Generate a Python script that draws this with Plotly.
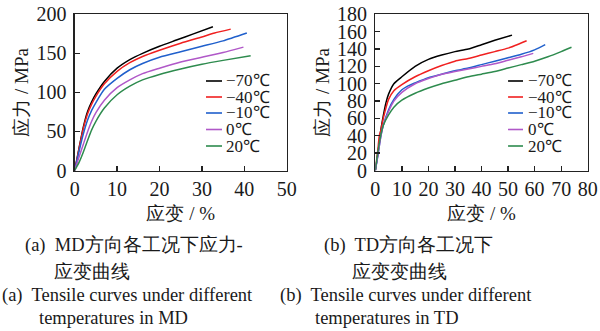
import plotly.graph_objects as go

# ---------------- data ----------------
series_names = ["−70℃", "−40℃", "−10℃", "0℃", "20℃"]
series_colors = ["#000000", "#f02020", "#2060cc", "#b058c8", "#2e8b4e"]

# MD direction (panel a): strain %, stress MPa
md_strain = [
    [0, 1, 2, 3, 4, 5, 7, 10, 13, 16, 20, 24, 28, 32.6],
    [0, 1, 2, 3, 4, 5, 7, 10, 13, 16, 20, 25, 30, 33, 36.8],
    [0, 1, 2, 3, 4, 5, 7, 10, 13, 16, 20, 25, 30, 35, 40.6],
    [0, 1, 2, 3, 4, 5, 7, 10, 13, 16, 20, 25, 30, 35, 39.8],
    [0, 1, 2, 3, 4, 5, 7, 10, 13, 16, 20, 25, 30, 35, 41.5],
]
md_stress = [
    [0, 28, 55, 75, 88, 98, 114, 131, 142, 150, 159, 167, 175, 184],
    [0, 27, 53, 72, 85, 95, 111, 127, 138, 146, 154, 163, 171, 176, 181],
    [0, 24, 46, 64, 77, 87, 104, 118, 129, 137, 145, 152, 159, 166, 176],
    [0, 17, 33, 49, 63, 74, 90, 106, 116, 124, 131, 139, 145, 151, 158],
    [0, 10, 23, 38, 52, 63, 80, 97, 108, 116, 123, 130, 136, 141, 147],
]

# TD direction (panel b)
td_strain = [
    [0, 1, 2, 3, 4, 5, 7, 10, 15, 20, 25, 30, 35, 40, 45, 51.5],
    [0, 1, 1.5, 2, 3, 5, 7, 10, 15, 20, 25, 30, 35, 40, 45, 50, 52.6, 57],
    [0, 1, 2, 3, 5, 7, 10, 12, 15, 20, 25, 30, 35, 40, 45, 50, 55, 60, 64],
    [0, 1, 2, 3, 5, 7, 10, 15, 20, 25, 30, 35, 40, 45, 50, 55, 59.5],
    [0, 1, 2, 3, 5, 7, 10, 15, 20, 25, 30, 35, 40, 45, 50, 55, 60, 65, 70, 73.9],
]
td_stress = [
    [0, 20, 45, 63, 78, 88, 100, 108, 120, 128, 133, 137, 140, 145, 150, 156],
    [0, 25, 40, 45, 60, 82, 92, 99, 108, 115, 121, 126, 129, 133, 137, 141, 144, 149.5],
    [0, 18, 38, 52, 70, 82, 93, 97, 101, 107, 111, 115, 118, 122, 126, 130, 134, 139, 145],
    [0, 18, 38, 52, 68, 80, 90, 100, 106, 111, 114, 117, 120, 123, 127, 131, 135],
    [0, 22, 40, 52, 64, 73, 81, 89, 95, 100, 104, 108, 111, 114, 118, 122, 126, 131, 137, 142],
]

md_xticks = [0, 10, 20, 30, 40, 50]
md_yticks = [0, 50, 100, 150, 200]
td_xticks = [0, 10, 20, 30, 40, 50, 60, 70, 80]
td_yticks = [0, 20, 40, 60, 80, 100, 120, 140, 160, 180]

x_title = "应变 / %"
y_title = "应力 / MPa"

captions_a = ["(a)  MD方向各工况下应力-", "应变曲线", "(a)  Tensile curves under different", "temperatures in MD"]
captions_b = ["(b)  TD方向各工况下", "应变变曲线", "(b)  Tensile curves under different", "temperatures in TD"]

# ---------------- figure ----------------
W, H = 600, 331
FONT = "Liberation Serif"
TXT = "#1a1a1a"

def px(x):
    return x / W

def py(y):
    return 1 - y / H

fig = go.Figure()

for i, name in enumerate(series_names):
    fig.add_trace(go.Scatter(x=md_strain[i], y=md_stress[i], mode="lines", name=name,
                             line=dict(color=series_colors[i], width=1.5, shape="spline", smoothing=0.6),
                             xaxis="x", yaxis="y", showlegend=False))
for i, name in enumerate(series_names):
    fig.add_trace(go.Scatter(x=td_strain[i], y=td_stress[i], mode="lines", name=name,
                             line=dict(color=series_colors[i], width=1.5, shape="spline", smoothing=0.6),
                             xaxis="x2", yaxis="y2", showlegend=False))

ydom = [py(170.5), py(14.3)]
axis_common = dict(showline=True, linecolor="#222", linewidth=1.3, mirror=True,
                   ticks="inside", ticklen=5, tickwidth=1.3, tickcolor="#222",
                   showgrid=False, zeroline=False, automargin=False,
                   tickfont=dict(family=FONT, size=20, color=TXT))

fig.update_layout(
    template="none",
    font=dict(family=FONT, color=TXT),
    width=W, height=H,
    margin=dict(l=0, r=0, t=0, b=0, autoexpand=False),
    paper_bgcolor="white", plot_bgcolor="white",
    xaxis=dict(domain=[px(74.7), px(286.7)], range=[0, 50], tickvals=md_xticks, anchor="y",
               title=dict(text=x_title, font=dict(family=FONT, size=19, color=TXT), standoff=8),
               **axis_common),
    yaxis=dict(domain=ydom, range=[0, 200], tickvals=md_yticks, anchor="x", ticklabelstandoff=3,
               title=dict(text=y_title, font=dict(family=FONT, size=19, color=TXT), standoff=2),
               **axis_common),
    xaxis2=dict(domain=[px(375.3), px(587.7)], range=[0, 80], tickvals=td_xticks, anchor="y2",
                title=dict(text=x_title, font=dict(family=FONT, size=19, color=TXT), standoff=8),
                **axis_common),
    yaxis2=dict(domain=ydom, range=[0, 180], tickvals=td_yticks, anchor="x2", ticklabelstandoff=3,
                title=dict(text=y_title, font=dict(family=FONT, size=19, color=TXT), standoff=2),
                **axis_common),
)

# manual legends (short line samples like the reference)
leg_rows = [81, 97, 113, 129.5, 146]
for (x0, x1, xt) in [(206, 222, 225), (508, 523, 527)]:
    for i, name in enumerate(series_names):
        fig.add_shape(type="line", xref="paper", yref="paper",
                      x0=px(x0), x1=px(x1), y0=py(leg_rows[i]), y1=py(leg_rows[i]),
                      line=dict(color=series_colors[i], width=1.6))
        fig.add_annotation(xref="paper", yref="paper", x=px(xt), y=py(leg_rows[i]),
                           text=name, showarrow=False, xanchor="left", yanchor="middle",
                           borderpad=0,
                           font=dict(family=FONT, size=17, color=TXT))

# captions
cap_rows = [245, 271, 295, 318]
cap_a_x = [23, 52, 0, 37]
cap_b_x = [322, 350, 278, 313]
for i in range(4):
    fig.add_annotation(xref="paper", yref="paper", x=px(cap_a_x[i]), y=py(cap_rows[i]),
                       text=captions_a[i], showarrow=False, xanchor="left", yanchor="middle",
                       font=dict(family=FONT, size=18.5, color=TXT))
    fig.add_annotation(xref="paper", yref="paper", x=px(cap_b_x[i]), y=py(cap_rows[i]),
                       text=captions_b[i], showarrow=False, xanchor="left", yanchor="middle",
                       font=dict(family=FONT, size=18.5, color=TXT))

fig.write_html("out.html", config={"displayModeBar": False, "staticPlot": True},
               post_script="document.body.style.margin='0';document.body.style.overflow='hidden';")
